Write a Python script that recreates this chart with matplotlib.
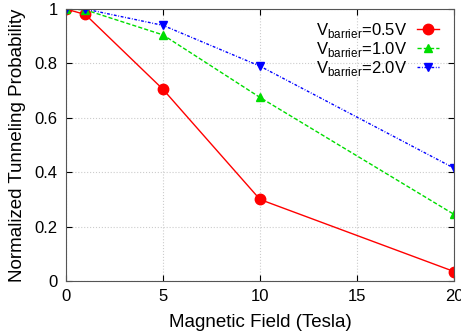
import matplotlib
matplotlib.use("Agg")
import matplotlib.pyplot as plt

plt.rcParams['font.family'] = ['Liberation Sans', 'DejaVu Sans']
plt.rcParams['mathtext.fontset'] = 'custom'
plt.rcParams['mathtext.rm'] = 'Liberation Sans'

field = [0, 1, 5, 10, 20]
p_05 = [1.0, 0.98, 0.705, 0.30, 0.035]
p_10 = [1.0, 0.997, 0.905, 0.675, 0.245]
p_20 = [1.0, 1.0, 0.94, 0.79, 0.415]

fig = plt.figure(figsize=(4.61, 3.35), dpi=100)
ax = fig.add_axes([0.143, 0.161, 0.842, 0.812])

ax.plot(field, p_05, '-', color='#ff0000', lw=1, marker='o', ms=7.5,
        label=r'V$_{\mathrm{barrier}}$=0.5V')
ax.plot(field, p_10, '--', color='#00dd00', lw=1, marker='^', ms=6,
        dashes=(3, 1.5), label=r'V$_{\mathrm{barrier}}$=1.0V')
ax.plot(field, p_20, ':', color='#0000ff', lw=1, marker='v', ms=6,
        dashes=(2, 1.2, 0.6, 1.2), label=r'V$_{\mathrm{barrier}}$=2.0V')

ax.set_xlim(0, 20)
ax.set_ylim(0, 1)
ax.set_xticks([0, 5, 10, 15, 20])
ax.set_yticks([0, 0.2, 0.4, 0.6, 0.8, 1])
ax.set_yticklabels(['0', '0.2', '0.4', '0.6', '0.8', '1'])
ax.tick_params(direction='in', top=True, right=True, labelsize=12, length=4, pad=6)
ax.grid(True, color='#cccccc', ls=':', lw=0.8)
for s in ax.spines.values():
    s.set_color('#555555')

ax.set_xlabel("Magnetic Field (Tesla)", fontsize=13.5, labelpad=7)
ax.set_ylabel("Normalized Tunneling Probability", fontsize=13.5, labelpad=6)

ax.legend(loc='upper right', frameon=False, markerfirst=False, fontsize=12,
          handlelength=1.3, handletextpad=0.6, labelspacing=0.0,
          borderaxespad=0.3, bbox_to_anchor=(0.99, 1.0))

fig.savefig("out.png", dpi=100)
